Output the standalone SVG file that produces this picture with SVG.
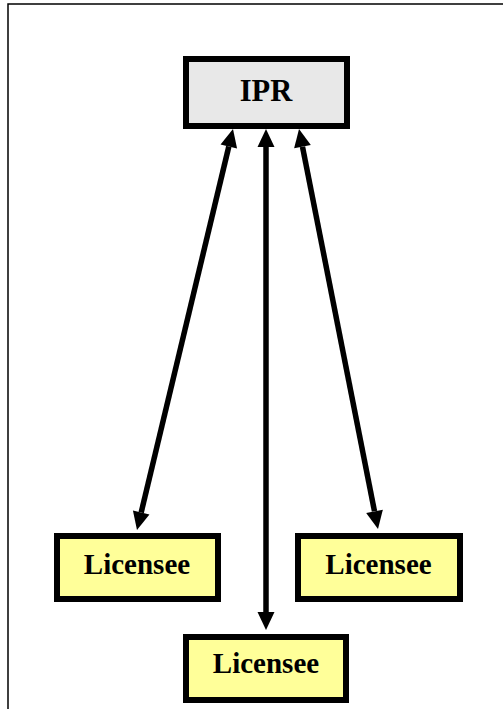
<svg xmlns="http://www.w3.org/2000/svg" width="503" height="709" viewBox="0 0 503 709">
  <style>
    .box { stroke: #000; stroke-width: 6; }
    .ipr { fill: #e8e8e8; }
    .lic { fill: #ffff99; }
    .lbl { font-family: "Liberation Serif", "Times New Roman", serif; font-weight: bold; font-size: 29px; fill: #000; text-anchor: middle; }
    .big { font-size: 30.5px; }
    .conn { stroke: #000; stroke-width: 5.5; fill: none; marker-start: url(#ah); marker-end: url(#ah); }
  </style>
  <defs>
    <marker id="ah" markerUnits="userSpaceOnUse" markerWidth="20" markerHeight="18" refX="0" refY="8.5" orient="auto-start-reverse" overflow="visible">
      <path d="M0,0 L18,8.5 L0,17 z" fill="#000"/>
    </marker>
  </defs>
  <rect x="0" y="0" width="503" height="709" fill="#fff"/>
  <rect x="8" y="4" width="600" height="800" fill="none" stroke="#000" stroke-width="1.5"/>
  <g id="connectors">
    <line class="conn" x1="266" y1="147" x2="266" y2="612"/>
    <line class="conn" x1="228.81" y1="146.5" x2="141.19" y2="512.5"/>
    <line class="conn" x1="302.49" y1="146.66" x2="374.51" y2="511.34"/>
  </g>
  <g id="ipr">
    <rect class="box ipr" x="186" y="59" width="161" height="67"/>
    <text class="lbl big" x="266" y="100.5">IPR</text>
  </g>
  <g id="licensee-left">
    <rect class="box lic" x="57" y="536" width="161" height="63"/>
    <text class="lbl" x="137" y="574">Licensee</text>
  </g>
  <g id="licensee-right">
    <rect class="box lic" x="298" y="536" width="162" height="63"/>
    <text class="lbl" x="378.5" y="574">Licensee</text>
  </g>
  <g id="licensee-bottom">
    <rect class="box lic" x="186" y="637" width="160" height="63"/>
    <text class="lbl" x="266" y="673">Licensee</text>
  </g>
</svg>
